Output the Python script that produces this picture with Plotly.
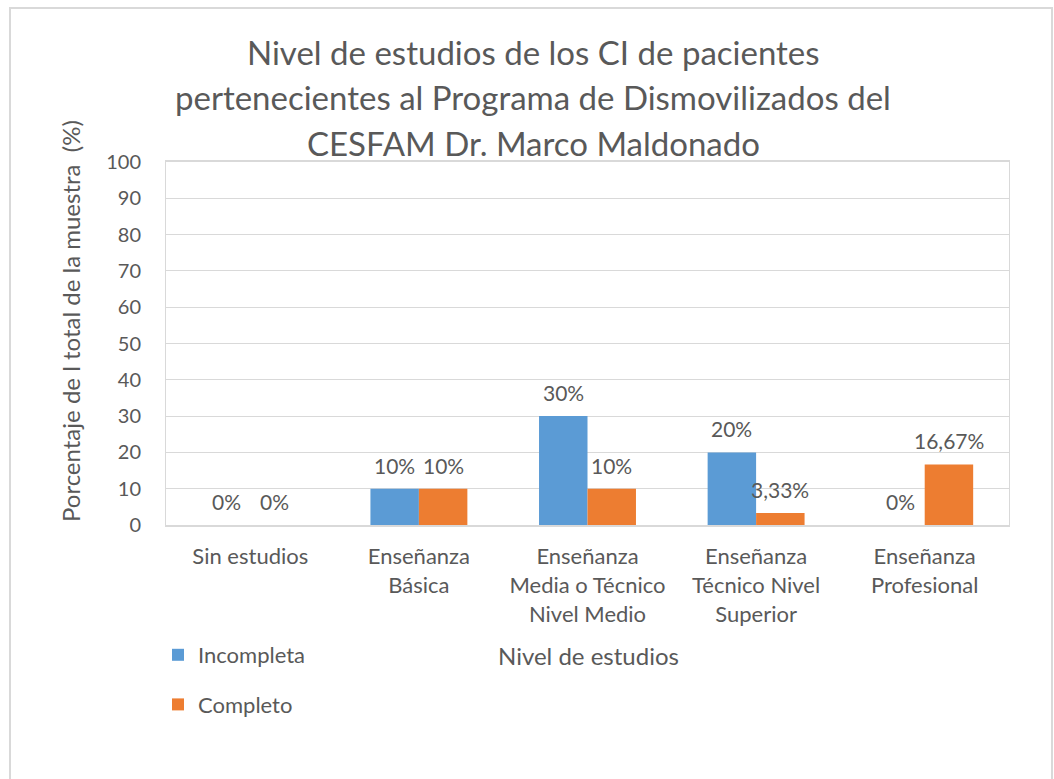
import plotly.graph_objects as go

categories = ["Sin estudios", "Enseñanza Básica", "Enseñanza Media o Técnico Nivel Medio",
              "Enseñanza Técnico Nivel Superior", "Enseñanza Profesional"]
tick_labels = ["Sin estudios", "Enseñanza<br>Básica", "Enseñanza<br>Media o Técnico<br>Nivel Medio",
               "Enseñanza<br>Técnico Nivel<br>Superior", "Enseñanza<br>Profesional"]
incompleta = [0, 10, 30, 20, 0]
completo = [0, 10, 10, 3.33, 16.67]
incompleta_labels = ["0%", "10%", "30%", "20%", "0%"]
completo_labels = ["0%", "10%", "10%", "3,33%", "16,67%"]
title_lines = ["Nivel de estudios de los CI de pacientes",
               "pertenecientes al Programa de Dismovilizados del",
               "CESFAM Dr. Marco Maldonado"]
y_ticks = list(range(0, 101, 10))

FONT = "Lato, Carlito, Calibri, sans-serif"
GRAY = "#595959"
W, H = 1054, 779
ML, MR, MT, MB = 166, 45, 162, 254
PW = W - ML - MR
PH = H - MT - MB
BARGAP = 0.425

fig = go.Figure()
fig.add_trace(go.Bar(x=categories, y=incompleta, name="Incompleta", marker_color="#5B9BD5",
                     marker_line_width=0, legendgroup="a"))
fig.add_trace(go.Bar(x=categories, y=completo, name="Completo", marker_color="#ED7D31",
                     marker_line_width=0, legendgroup="b"))

cat_w = PW / len(categories)
bar_w = cat_w * (1 - BARGAP) / 2
annotations = []
for vals, labs, sign in [(incompleta, incompleta_labels, -1), (completo, completo_labels, 1)]:
    for c, v, t in zip(categories, vals, labs):
        annotations.append(dict(x=c, y=v, xref="x", yref="y", text=t, showarrow=False,
                                xshift=sign * bar_w / 2, yshift=9, yanchor="bottom",
                                font=dict(family=FONT, size=21, color=GRAY)))

def px2x(px):
    return (px - ML) / PW

def py2y(py):
    return (H - MB - py) / PH

for line, cy in zip(title_lines, [52, 97, 143]):
    annotations.append(dict(x=px2x(533), y=py2y(cy), xref="paper", yref="paper", text=line,
                            showarrow=False, xanchor="center", yanchor="middle",
                            font=dict(family=FONT, size=33, color=GRAY)))

annotations.append(dict(x=px2x(70), y=py2y(321), xref="paper", yref="paper",
                        text="Porcentaje de l total de la muestra  (%)", textangle=-90,
                        showarrow=False, xanchor="center", yanchor="middle",
                        font=dict(family=FONT, size=24, color=GRAY)))
annotations.append(dict(x=px2x(588), y=py2y(655), xref="paper", yref="paper",
                        text="Nivel de estudios", showarrow=False, xanchor="center", yanchor="middle",
                        font=dict(family=FONT, size=24, color=GRAY)))

fig.update_layout(
    width=W, height=H,
    margin=dict(l=ML, r=MR, t=MT, b=MB, autoexpand=False),
    paper_bgcolor="white", plot_bgcolor="white",
    barmode="group", bargap=BARGAP, bargroupgap=0,
    font=dict(family=FONT, color=GRAY),
    showlegend=True,
    legend=dict(x=px2x(158), y=py2y(634), xanchor="left", yanchor="top", orientation="v",
                tracegroupgap=18, font=dict(family=FONT, size=22, color=GRAY),
                bgcolor="rgba(0,0,0,0)"),
    annotations=annotations,
    shapes=[dict(type="rect", xref="paper", yref="paper",
                 x0=px2x(10), x1=px2x(1052), y0=py2y(800), y1=py2y(8),
                 line=dict(color="#D9D9D9", width=2), layer="below")],
)
fig.update_xaxes(tickvals=categories, ticktext=tick_labels, showline=True, mirror=True,
                 linecolor="#D9D9D9", linewidth=2, showgrid=False, ticks="",
                 ticklabelstandoff=11,
                 tickfont=dict(family=FONT, size=22, color=GRAY))
fig.update_yaxes(range=[0, 100], tickvals=y_ticks, showline=True, mirror=True,
                 linecolor="#D9D9D9", linewidth=1, showgrid=True, gridcolor="#D9D9D9",
                 gridwidth=1, ticks="", ticklabelstandoff=20, zeroline=False,
                 tickfont=dict(family=FONT, size=20, color=GRAY))

fig.write_html("out.html", config={"displayModeBar": False},
               post_script="document.body.style.margin='0';document.body.style.overflow='hidden';")
